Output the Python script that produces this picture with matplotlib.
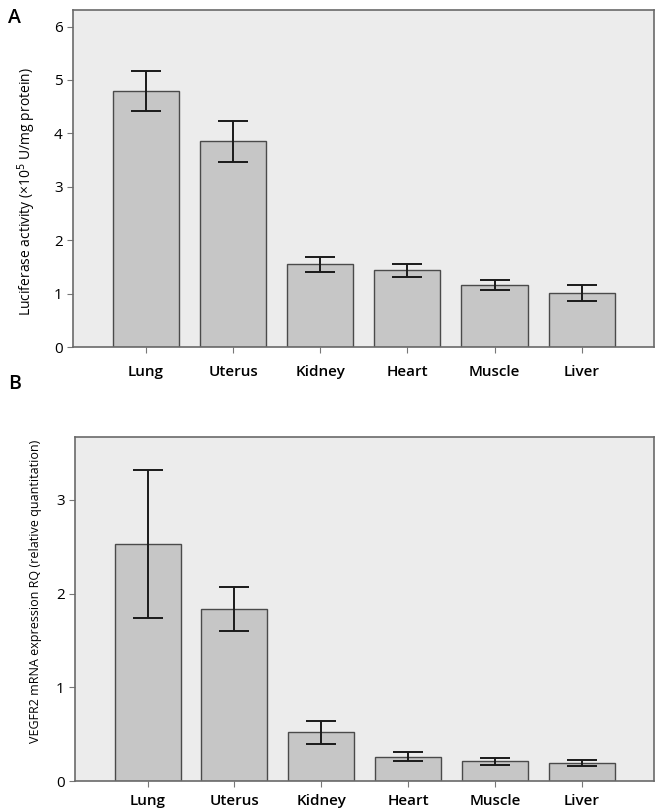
import matplotlib
matplotlib.use("Agg")
import matplotlib.pyplot as plt
import numpy as np

plt.rcParams['font.family'] = ['Open Sans', 'DejaVu Sans']

tissues = ["Lung", "Uterus", "Kidney", "Heart", "Muscle", "Liver"]
luciferase = [4.79, 3.85, 1.55, 1.44, 1.16, 1.01]
luciferase_err = [0.38, 0.39, 0.14, 0.12, 0.10, 0.15]
vegfr2 = [2.53, 1.83, 0.52, 0.26, 0.21, 0.19]
vegfr2_err = [0.79, 0.235, 0.12, 0.045, 0.035, 0.035]

ylabel_a = "Luciferase activity (\u00d710$^{5}$ U/mg protein)"
ylabel_b = "VEGFR2 mRNA expression RQ (relative quantitation)"

fig = plt.figure(figsize=(6.65, 8.08), dpi=100)
fig.patch.set_facecolor("white")

ax1 = fig.add_axes([0.1098, 0.5705, 0.8737, 0.4171])
ax2 = fig.add_axes([0.1128, 0.0334, 0.8707, 0.4258])

def style(ax, vals, errs, ylim, yticks, ylabel, ylabel_size):
    x = np.arange(len(tissues))
    ax.set_facecolor("#ececec")
    ax.bar(x, vals, width=0.76, color="#c6c6c6", edgecolor="#4a4a4a", linewidth=1.0, zorder=2)
    ax.errorbar(x, vals, yerr=errs, fmt="none", ecolor="#1a1a1a", elinewidth=1.4,
                capsize=11, capthick=1.4, zorder=3)
    ax.set_xlim(-0.836, 5.83)
    ax.set_ylim(0, ylim)
    ax.set_yticks(yticks)
    ax.set_yticklabels([str(t) for t in yticks], fontsize=11)
    ax.set_xticks(x)
    ax.set_xticklabels(tissues, fontsize=11, fontweight="semibold")
    ax.tick_params(axis="both", direction="out", length=4, width=0.8, color="#777777")
    ax.tick_params(axis="x", pad=9)
    for s in ax.spines.values():
        s.set_color("#6a6a6a")
        s.set_linewidth(1.2)
    ax.set_ylabel(ylabel, fontsize=ylabel_size)

style(ax1, luciferase, luciferase_err, 6.31, [0, 1, 2, 3, 4, 5, 6], ylabel_a, 10)
style(ax2, vegfr2, vegfr2_err, 3.67, [0, 1, 2, 3], ylabel_b, 9)
ax1.yaxis.set_label_coords(-0.060, 0.46)
ax2.yaxis.set_label_coords(-0.057, 0.55)
ax2.tick_params(axis="x", pad=5)

fig.text(0.012, 0.978, "A", fontsize=14, fontweight="semibold", va="center")
fig.text(0.012, 0.525, "B", fontsize=14, fontweight="semibold", va="center")

fig.savefig("out.png", dpi=100)
